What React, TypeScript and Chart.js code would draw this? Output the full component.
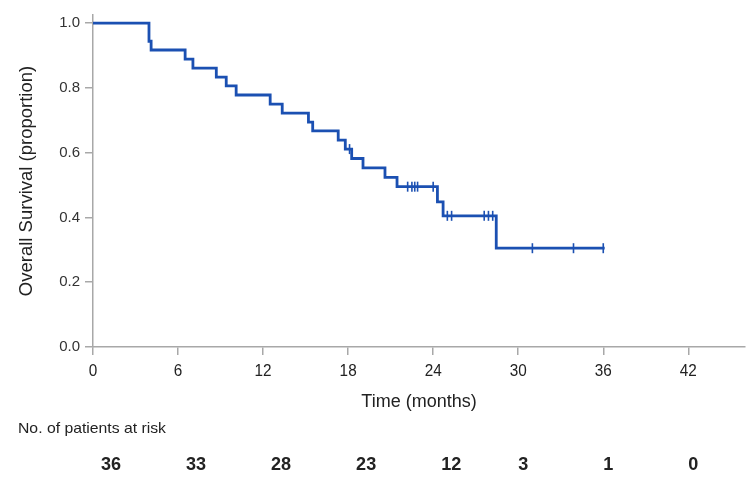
import React, { useEffect, useRef } from "react";
import { Chart, registerables } from "chart.js";

Chart.register(...registerables);

// Kaplan-Meier step points (time in months, survival proportion)
const eventTimes = [0, 3.95, 4.1, 6.5, 7.05, 8.7, 9.4, 10.1, 12.5, 13.35, 15.2, 15.5, 17.3, 17.8, 18.25, 19.05, 20.6, 21.45, 24.3, 24.7, 28.45, 36.1];
const survival = [1, 0.944, 0.917, 0.889, 0.861, 0.833, 0.806, 0.778, 0.75, 0.722, 0.694, 0.667, 0.639, 0.611, 0.582, 0.553, 0.524, 0.495, 0.448, 0.405, 0.305, 0.305];
// Censoring times
const censorTimes = [18.1, 22.2, 22.5, 22.7, 22.9, 24.0, 25.0, 25.3, 27.6, 27.9, 28.2, 31.0, 33.9, 36.0];
// Risk table
const riskTimes = [0, 6, 12, 18, 24, 30, 36, 42];
const riskCounts = ["36", "33", "28", "23", "12", "3", "1", "0"];
const xTicks = [0, 6, 12, 18, 24, 30, 36, 42];
const yTicks = [0, 0.2, 0.4, 0.6, 0.8, 1.0];

const BLUE = "#1b50b2";
const AXIS = "#a8a8a8";
const TEXT = "#222";
const SANS = '"Liberation Sans", Arial, sans-serif';

function survAt(t: number): number {
  let s = survival[0];
  for (let i = 0; i < eventTimes.length; i++) {
    if (eventTimes[i] <= t) s = survival[i];
  }
  return s;
}

function condensed(ctx: any, text: string, x: number, y: number, sx: number, align: string) {
  ctx.save();
  ctx.translate(x, y);
  ctx.scale(sx, 1);
  ctx.textAlign = align;
  ctx.fillText(text, 0, 0);
  ctx.restore();
}

const textPlugin = {
  id: "kmText",
  afterDraw(chart: any) {
    const { ctx, chartArea, scales } = chart;
    const xs = scales.x;
    ctx.save();
    // Y title
    ctx.fillStyle = TEXT;
    ctx.font = "18.5px " + SANS;
    ctx.textAlign = "center";
    ctx.textBaseline = "middle";
    ctx.translate(27, (chartArea.top + chartArea.bottom) / 2);
    ctx.rotate(-Math.PI / 2);
    ctx.fillText("Overall Survival (proportion)", 0, 0);
    ctx.restore();

    ctx.save();
    ctx.fillStyle = TEXT;
    ctx.textBaseline = "middle";
    // x tick labels
    ctx.font = "17px " + SANS;
    xTicks.forEach((t) => {
      condensed(ctx, String(t), xs.getPixelForValue(t), chartArea.bottom + 24, 0.9, "center");
    });
    // x title
    ctx.font = "18px " + SANS;
    condensed(ctx, "Time (months)", (chartArea.left + chartArea.right) / 2, chartArea.bottom + 55, 1.0, "center");
    // risk table
    ctx.font = "15px " + SANS;
    condensed(ctx, "No. of patients at risk", 18, chartArea.bottom + 82, 1.05, "left");
    ctx.font = "bold 19px " + SANS;
    riskTimes.forEach((t, i) => {
      const lbl = riskCounts[i];
      const off = lbl.length === 2 ? 18 : 5;
      condensed(ctx, lbl, xs.getPixelForValue(t) + off, chartArea.bottom + 118, 0.95, "center");
    });
    ctx.restore();
  },
};

export default function App() {
  const ref = useRef<HTMLCanvasElement | null>(null);
  useEffect(() => {
    if (!ref.current) return;
    const chart = new Chart(ref.current, {
      type: "line",
      data: {
        datasets: [
          {
            label: "OS",
            data: eventTimes.map((t, i) => ({ x: t, y: survival[i] })),
            borderColor: BLUE,
            borderWidth: 2.8,
            stepped: true,
            pointRadius: 0,
            fill: false,
          },
          {
            label: "Censored",
            data: censorTimes.map((t) => ({ x: t, y: survAt(t) })),
            showLine: false,
            pointStyle: "line",
            rotation: 90,
            pointRadius: 5,
            borderColor: BLUE,
            borderWidth: 1.6,
            backgroundColor: BLUE,
          } as any,
        ],
      },
      options: {
        animation: false,
        responsive: false,
        maintainAspectRatio: false,
        layout: { padding: { left: 0, right: 8, top: 15, bottom: 0 } },
        plugins: { legend: { display: false }, tooltip: { enabled: false } },
        scales: {
          x: {
            type: "linear",
            min: 0,
            max: 46,
            afterBuildTicks: (s: any) => {
              s.ticks = xTicks.map((v) => ({ value: v }));
            },
            afterFit: (s: any) => {
              s.height = 486 - 347;
            },
            border: { color: AXIS, width: 1.5 },
            grid: { drawOnChartArea: false, drawTicks: true, tickLength: 8, color: AXIS, lineWidth: 1.5 },
            ticks: {
              display: false,
              maxRotation: 0,
            },
          },
          y: {
            type: "linear",
            min: 0,
            max: 1.025,
            afterBuildTicks: (s: any) => {
              s.ticks = yTicks.map((v) => ({ value: v }));
            },
            afterFit: (s: any) => {
              s.width = 93;
            },
            border: { color: AXIS, width: 1.5 },
            grid: { drawOnChartArea: false, drawTicks: true, tickLength: 8, color: AXIS, lineWidth: 1.5 },
            ticks: {
              padding: 5,
              color: "#333",
              font: { family: SANS, size: 15 },
              callback: (v: any) => Number(v).toFixed(1),
            },
          },
        },
      },
      plugins: [textPlugin],
    } as any);
    return () => chart.destroy();
  }, []);
  return (
    <div style={{ position: "absolute", left: 0, top: 0, width: 753, height: 486, background: "#fff" }}>
      <canvas ref={ref} width={753} height={486} style={{ display: "block" }} />
    </div>
  );
}
